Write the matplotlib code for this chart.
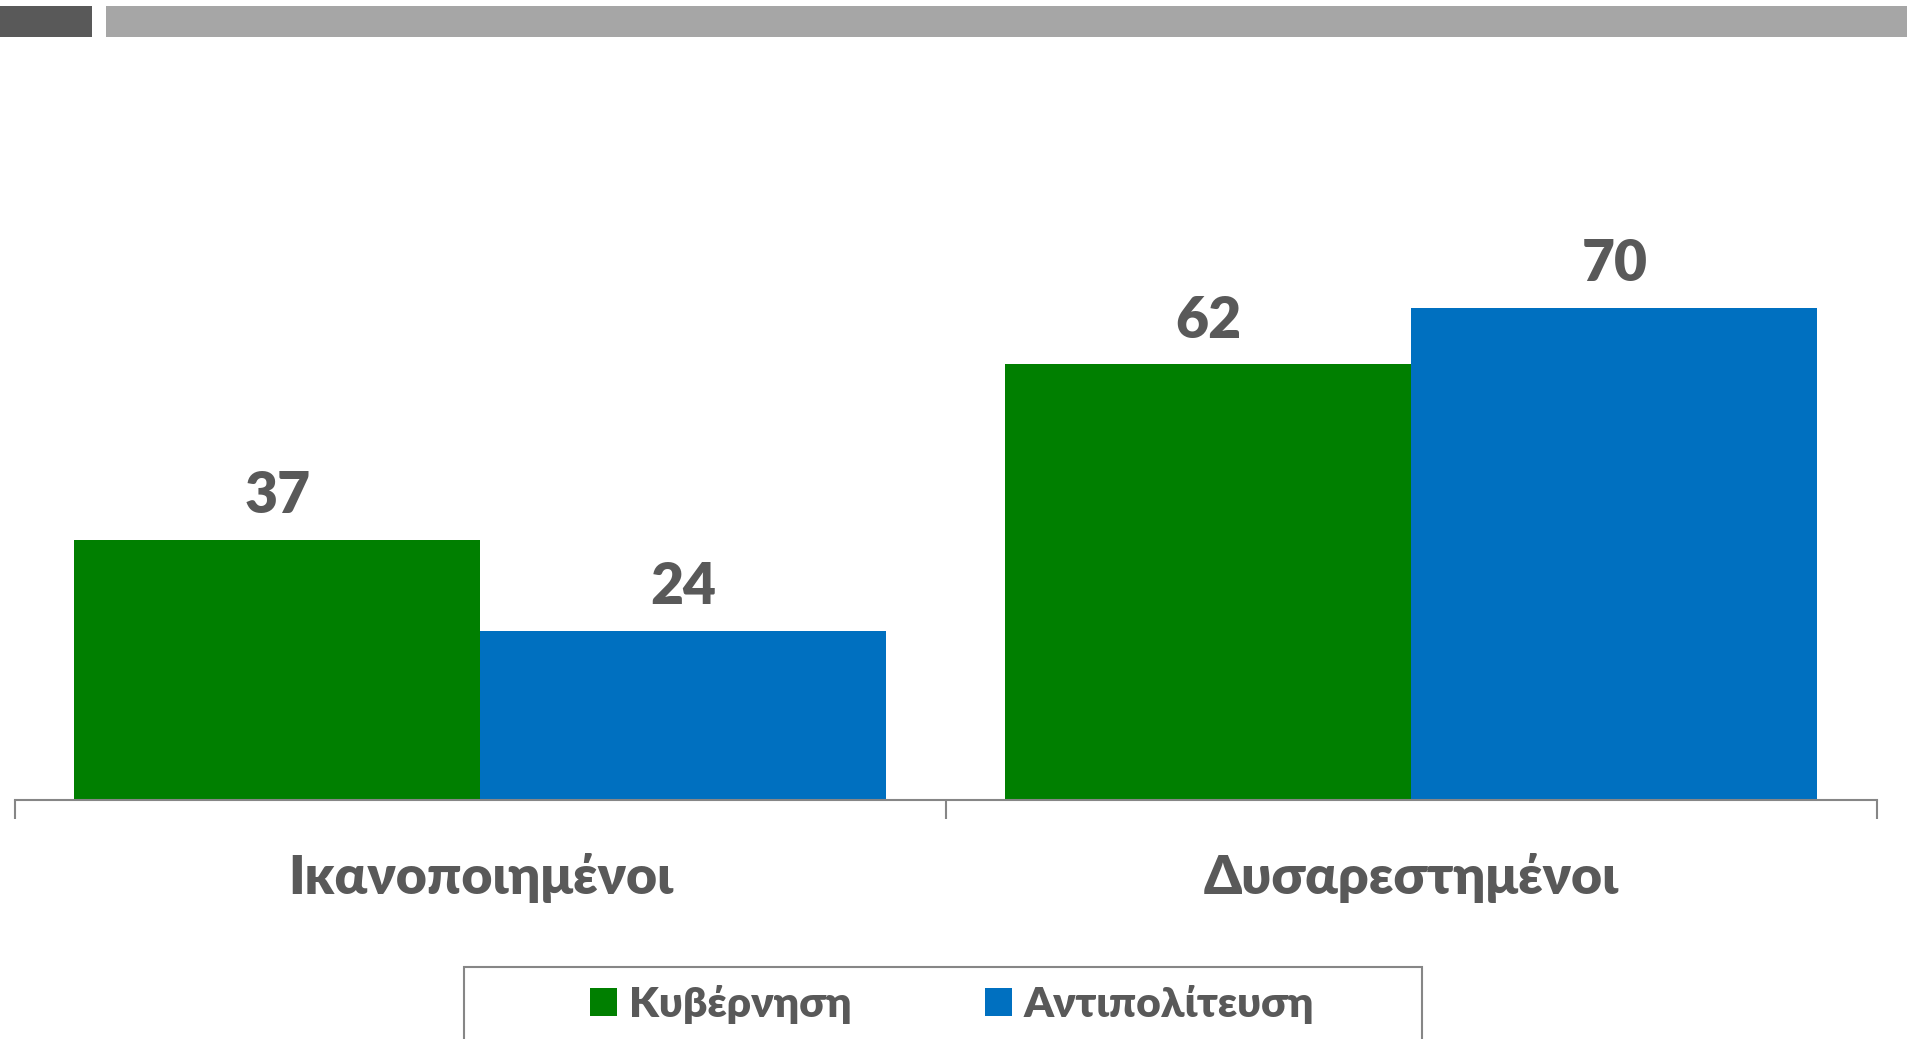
import matplotlib
matplotlib.use('Agg')
import matplotlib.pyplot as plt
from matplotlib.patches import Rectangle, Patch
from matplotlib.transforms import blended_transform_factory

# ---- data ----
categories = ['Ικανοποιημένοι', 'Δυσαρεστημένοι']
series_names = ['Κυβέρνηση', 'Αντιπολίτευση']
kyvernisi = [37, 62]
antipolitefsi = [24, 70]

GREEN = '#007F00'
BLUE = '#0070C0'
TEXT = '#595959'
AXIS = '#868686'
WEIGHT = 'heavy'

plt.rcParams['font.family'] = ['Lato', 'DejaVu Sans']

W, H = 1910, 1039
fig = plt.figure(figsize=(W / 100, H / 100), dpi=100)


def fx(px):
    return px / W


def fy(py):
    return 1 - py / H


# top banner bars
fig.patches.append(Rectangle((0, fy(37)), fx(92), 31 / H, transform=fig.transFigure,
                             facecolor='#595959', edgecolor='none'))
fig.patches.append(Rectangle((fx(106), fy(37)), fx(1907 - 106), 31 / H, transform=fig.transFigure,
                             facecolor='#A6A6A6', edgecolor='none'))

ax = fig.add_axes([fx(14.6), fy(800), fx(1877) - fx(14.6), (800 - 238) / H])
ax.set_xlim(-0.5, 1.5)
ax.set_ylim(0, 80)

bw = 0.436
xs = list(range(len(categories)))
b1 = ax.bar([x - bw / 2 for x in xs], kyvernisi, width=bw, color=GREEN, label=series_names[0])
b2 = ax.bar([x + bw / 2 for x in xs], antipolitefsi, width=bw, color=BLUE, label=series_names[1])

for bars, vals in ((b1, kyvernisi), (b2, antipolitefsi)):
    for rect, v in zip(bars, vals):
        ax.annotate(str(v), (rect.get_x() + rect.get_width() / 2, v), xytext=(0, 19.4),
                    textcoords='offset points', ha='center', va='baseline',
                    fontsize=41, fontweight=WEIGHT, color=TEXT)

for s in ('top', 'left', 'right'):
    ax.spines[s].set_visible(False)
ax.spines['bottom'].set_color(AXIS)
ax.spines['bottom'].set_linewidth(1.5)
ax.set_yticks([])
ax.set_xticks([-0.5, 0.5, 1.5])
ax.tick_params(axis='x', length=13.7, width=1.5, color=AXIS, labelbottom=False)

trans = blended_transform_factory(ax.transData, fig.transFigure)
for x, c in zip(xs, categories):
    ax.text(x, fy(894), c, transform=trans, ha='center', va='baseline',
            fontsize=38.5, fontweight=WEIGHT, color=TEXT)

# legend box
fig.patches.append(Rectangle((fx(464), fy(1080)), fx(1422 - 464), (1080 - 967) / H,
                             transform=fig.transFigure, facecolor='none',
                             edgecolor=AXIS, linewidth=1.5))
handles = [Patch(facecolor=GREEN, edgecolor='none'), Patch(facecolor=BLUE, edgecolor='none')]
leg = fig.legend(handles, series_names, loc='center left', bbox_to_anchor=(fx(590), fy(1004)),
                 ncol=2, frameon=False, borderpad=0, borderaxespad=0,
                 prop={'size': 30.5, 'weight': WEIGHT},
                 handlelength=0.64, handleheight=0.64, handletextpad=0.28, columnspacing=3.15)
for t in leg.get_texts():
    t.set_color(TEXT)

fig.savefig('out.png', dpi=100)
